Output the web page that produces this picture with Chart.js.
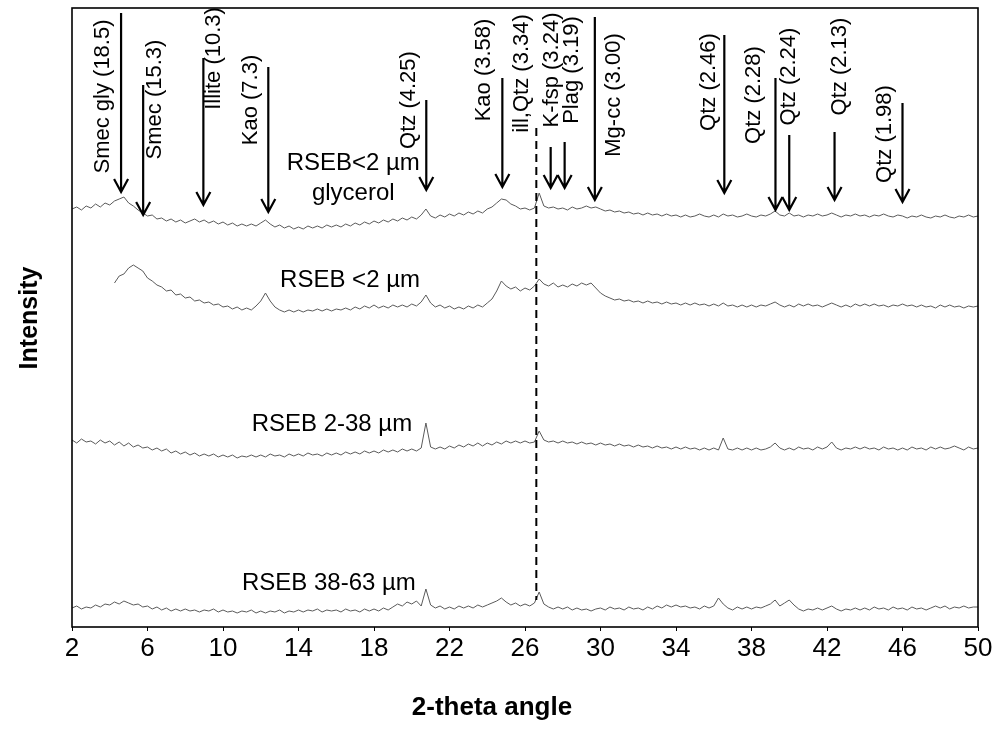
<!DOCTYPE html>
<html>
<head>
<meta charset="utf-8">
<script src="https://cdn.jsdelivr.net/npm/chart.js@4.4.0/dist/chart.umd.min.js"></script>
<style>
  body { margin: 0; background: #fff; }
</style>
</head>
<body>
<canvas id="xrd" width="997" height="747"></canvas>
<script>
// 2-theta scan grid (degrees)
const thetaStart = 2;
const thetaStep = 0.25;

// intensities, one row per 2 degrees
const gly = [
  418,420,417,421,419,423,420,424,
  422,426,428,430,424,421,417,414,
  411,412,408,409,406,408,405,407,
  404,406,408,405,407,404,406,403,
  405,402,404,401,403,401,403,401,
  404,407,403,400,402,399,401,398,
  400,398,401,399,401,399,402,400,
  402,400,403,401,404,402,405,403,
  406,404,407,405,408,406,409,407,
  410,408,412,418,411,409,412,410,
  413,411,414,412,415,413,416,414,
  418,420,424,428,427,423,421,418,
  419,417,419,434,421,419,420,418,
  419,417,420,418,419,421,419,420,
  418,416,417,415,416,414,415,413,
  414,412,414,412,413,411,413,411,
  412,410,412,410,411,413,411,410,
  412,410,413,411,412,410,411,413,
  411,410,412,411,413,416,412,411,
  414,411,412,410,412,411,413,411,
  412,414,412,410,412,411,413,411,
  412,410,412,411,413,411,410,412,
  411,409,411,410,412,410,409,411,
  410,412,410,409,411,410,412,410,
  411
];
const fine = [
  null,null,null,null,null,null,null,null,
  null,344,351,353,359,362,359,356,
  349,346,342,340,336,337,332,333,
  329,330,326,327,324,325,322,323,
  320,321,318,320,317,319,317,321,
  326,334,326,320,317,315,317,315,
  317,315,317,316,318,316,318,316,
  318,317,319,317,320,318,321,319,
  322,319,321,319,322,320,322,320,
  323,321,325,332,324,320,322,319,
  321,318,320,318,321,319,322,320,
  324,328,336,346,341,338,340,336,
  339,337,341,348,343,341,344,340,
  342,340,343,341,344,342,344,339,
  334,331,329,327,328,326,327,325,
  326,324,326,324,325,323,325,323,
  324,322,324,322,324,322,323,321,
  323,321,324,321,322,320,322,320,
  322,320,322,321,323,325,322,320,
  322,320,323,321,323,321,322,320,
  322,324,322,320,322,320,323,321,
  323,321,323,321,322,320,322,321,
  323,321,322,320,322,320,321,319,
  322,320,322,320,321,319,321,320,
  321
];
const silt = [
  187,184,188,185,186,183,187,184,
  186,182,185,181,184,180,182,179,
  180,177,179,176,178,174,176,173,
  175,172,174,171,173,171,173,170,
  172,170,172,169,171,170,172,170,
  172,170,173,171,172,170,173,171,
  173,171,174,172,173,171,174,172,
  174,172,175,173,175,173,176,174,
  176,174,177,175,177,175,178,176,
  178,176,179,204,180,178,180,178,
  181,179,182,180,183,181,184,181,
  184,182,185,183,186,184,186,184,
  186,184,185,196,187,185,186,184,
  186,184,185,183,185,183,184,182,
  184,182,183,181,183,181,182,180,
  182,180,181,179,181,179,180,178,
  180,178,180,178,179,177,179,177,
  179,177,189,178,177,179,177,179,
  177,179,177,178,180,184,179,177,
  179,177,180,178,179,177,180,178,
  180,185,179,177,179,178,180,178,
  180,178,179,177,180,178,179,177,
  179,177,180,178,179,177,180,178,
  180,178,179,181,179,177,180,178,
  179
];
const sand = [
  19,21,18,20,19,22,20,23,
  22,25,23,26,24,22,23,20,
  21,18,20,17,19,16,18,16,
  18,16,17,15,17,16,18,15,
  17,15,16,14,16,15,17,14,
  16,14,16,15,17,14,16,15,
  17,15,17,16,18,15,17,16,
  17,15,18,16,17,15,18,16,
  18,16,19,17,20,23,21,25,
  23,26,21,38,22,19,21,18,
  20,18,21,19,21,19,22,20,
  22,24,26,29,25,22,24,21,
  23,21,24,35,23,20,18,20,
  18,20,17,19,17,18,16,18,
  19,17,20,18,19,17,20,18,
  19,17,20,18,21,19,22,20,
  22,20,21,19,20,18,21,19,
  21,29,23,19,17,20,18,20,
  18,20,19,21,23,27,21,24,
  27,22,18,16,18,17,19,17,
  19,21,18,16,18,17,19,17,
  19,17,20,18,19,17,20,18,
  19,17,20,18,19,17,19,21,
  19,21,18,20,19,21,19,20,
  20
];

// trace labels
const traceText = [["RSEB<2 \u00b5m", "glycerol"], ["RSEB <2 \u00b5m"], ["RSEB 2-38 \u00b5m"], ["RSEB 38-63 \u00b5m"]];
const traceTextX = [16.9, 16.73, 15.77, 15.61];
const traceTextY = [[464, 434], [347], [203], [44]];

// mineral peak markers: label, label position, arrow position
const peakNames = ["Smec gly (18.5)", "Smec (15.3)", "Illite (10.3)", "Kao (7.3)", "Qtz (4.25)",
  "Kao (3.58)", "ill,Qtz (3.34)", "K-fsp (3.24)", "Plag (3.19)", "Mg-cc (3.00)",
  "Qtz (2.46)", "Qtz (2.28)", "Qtz (2.24)", "Qtz (2.13)", "Qtz (1.98)"];
const peakLabelX = [3.65, 6.41, 9.5, 11.46, 19.86, 23.85, 25.82, 27.41, 28.47, 30.71, 35.76, 38.15, 40.0, 42.67, 45.06];
const peakLabelY = [530.5, 527.5, 568.5, 527, 527, 557, 553.5, 557, 557, 532, 545, 532, 550.5, 560.5, 493];
const arrowX = [4.6, 5.77, 8.96, 12.4, 20.77, 24.8, null, 27.36, 28.1, 29.7, 36.56, 39.27, 40.0, 42.4, 46.0];
const arrowTop = [614, 542, 569, 560, 527, 549, null, 480, 485, 610, 592, 549, 492, 495, 524];
const arrowTip = [435, 412, 422, 415, 437, 440, null, 439, 439, 427, 434, 417, 417, 427, 425];

// main quartz reflection (dashed guide)
const qtzLine = { x: 26.6, from: 499, to: 27 };

const xTicks = { min: 2, max: 50, step: 4 };

const SANS = '"Liberation Sans", Arial, sans-serif';

function toPoints(arr) {
  return arr.map((v, i) => ({ x: thetaStart + i * thetaStep, y: v }));
}

const overlay = {
  id: 'overlay',
  afterDatasetsDraw(chart) {
    const ctx = chart.ctx;
    const xs = chart.scales.x, ys = chart.scales.y;
    const a = chart.chartArea;
    ctx.save();

    // frame
    ctx.strokeStyle = '#000';
    ctx.lineWidth = 1.6;
    ctx.strokeRect(a.left, a.top, a.right - a.left, a.bottom - a.top);

    // dashed quartz line
    ctx.beginPath();
    ctx.setLineDash([8, 5]);
    ctx.lineWidth = 2;
    ctx.moveTo(xs.getPixelForValue(qtzLine.x), ys.getPixelForValue(qtzLine.from));
    ctx.lineTo(xs.getPixelForValue(qtzLine.x), ys.getPixelForValue(qtzLine.to));
    ctx.stroke();
    ctx.setLineDash([]);

    // arrows
    ctx.lineWidth = 2.2;
    arrowX.forEach((v, i) => {
      if (v === null) return;
      const x = xs.getPixelForValue(v);
      const y0 = ys.getPixelForValue(arrowTop[i]);
      const y1 = ys.getPixelForValue(arrowTip[i]);
      ctx.beginPath();
      ctx.moveTo(x, y0);
      ctx.lineTo(x, y1);
      ctx.moveTo(x - 7, y1 - 13);
      ctx.lineTo(x, y1);
      ctx.lineTo(x + 7, y1 - 13);
      ctx.stroke();
    });

    // rotated peak labels
    ctx.fillStyle = '#000';
    ctx.font = '22px ' + SANS;
    ctx.textAlign = 'center';
    ctx.textBaseline = 'middle';
    peakNames.forEach((name, i) => {
      ctx.save();
      ctx.translate(xs.getPixelForValue(peakLabelX[i]), ys.getPixelForValue(peakLabelY[i]));
      ctx.rotate(-Math.PI / 2);
      ctx.fillText(name, 0, 0);
      ctx.restore();
    });

    // trace labels
    ctx.font = '24px ' + SANS;
    traceText.forEach((lines, i) => {
      lines.forEach((t, j) => {
        ctx.fillText(t, xs.getPixelForValue(traceTextX[i]), ys.getPixelForValue(traceTextY[i][j]));
      });
    });

    // axis titles
    ctx.font = 'bold 26px ' + SANS;
    ctx.fillText('2-theta angle', 492, 708);
    ctx.save();
    ctx.translate(30, 318);
    ctx.rotate(-Math.PI / 2);
    ctx.font = 'bold 25px ' + SANS;
    ctx.fillText('Intensity', 0, 0);
    ctx.restore();

    ctx.restore();
  }
};

function series(arr) {
  return {
    data: toPoints(arr),
    borderColor: '#5a5a5a',
    borderWidth: 1,
    pointRadius: 0,
    tension: 0,
    spanGaps: false
  };
}

new Chart(document.getElementById('xrd'), {
  type: 'line',
  data: { datasets: [series(gly), series(fine), series(silt), series(sand)] },
  options: {
    responsive: false,
    animation: false,
    devicePixelRatio: 1,
    layout: { padding: { top: 8, right: 19, left: 0, bottom: 0 } },
    plugins: { legend: { display: false }, tooltip: { enabled: false } },
    scales: {
      x: {
        type: 'linear',
        min: xTicks.min,
        max: xTicks.max,
        ticks: { stepSize: xTicks.step, color: '#000', padding: 2, font: { family: SANS, size: 26 } },
        grid: { drawOnChartArea: false, tickLength: 4, color: '#000' },
        border: { display: false },
        afterFit(s) { s.height = 120; }
      },
      y: {
        min: 0,
        max: 619,
        ticks: { display: false },
        grid: { display: false },
        border: { display: false },
        afterFit(s) { s.width = 72; }
      }
    }
  },
  plugins: [overlay]
});
</script>
</body>
</html>
